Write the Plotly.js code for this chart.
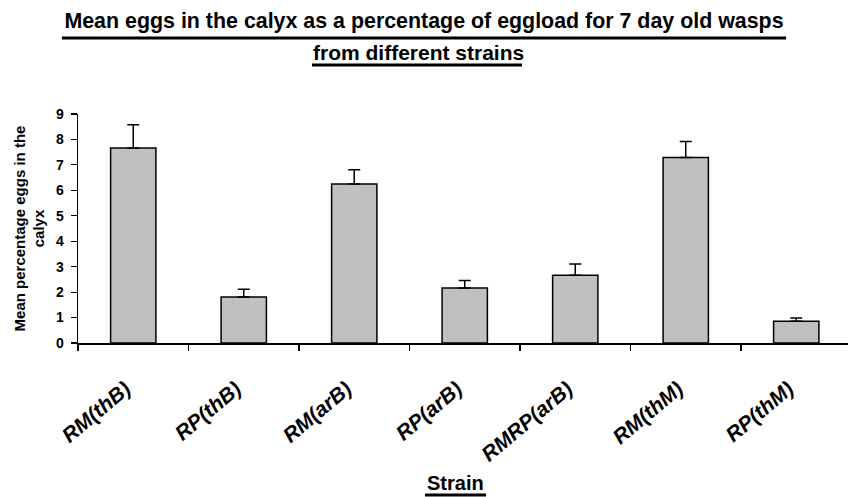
<!DOCTYPE html>
<html>
<head>
<meta charset="utf-8">
<script src="https://cdn.plot.ly/plotly-3.0.1.min.js"></script>
<style>html,body{margin:0;padding:0;background:#fff;}#chart{width:848px;height:497px;}</style>
</head>
<body>
<div id="chart"></div>
<script>
const strains = ["RM(thB)", "RP(thB)", "RM(arB)", "RP(arB)", "RMRP(arB)", "RM(thM)", "RP(thM)"];
const meanPct = [7.66, 1.81, 6.25, 2.16, 2.66, 7.29, 0.85];
const sePct = [0.92, 0.30, 0.56, 0.30, 0.44, 0.63, 0.13];
const yTicks = [0, 1, 2, 3, 4, 5, 6, 7, 8, 9];

const FONT = "Arial, 'Liberation Sans', Helvetica, sans-serif";
const W = 848, H = 497, L = 78, R = 0, T = 114, B = 154;
const pw = W - L - R, ph = H - T - B;
const px2x = p => (p - L) / pw;
const py2y = p => (H - B - p) / ph;

const trace = {
  type: "bar",
  x: strains,
  y: meanPct,
  width: 0.41,
  marker: {color: "#c0c0c0", line: {color: "#000", width: 1.5}},
  error_y: {
    type: "data", symmetric: false,
    array: sePct, arrayminus: sePct.map(() => 0),
    color: "#000", thickness: 1.5, width: 6
  },
  hoverinfo: "x+y"
};

function uline(x0, x1, y, w) {
  return {type: "line", xref: "paper", yref: "paper",
    x0: px2x(x0), x1: px2x(x1), y0: py2y(y), y1: py2y(y),
    line: {color: "#000", width: w}};
}

const layout = {
  width: W, height: H,
  margin: {l: L, r: R, t: T, b: B, pad: 0},
  paper_bgcolor: "#fff", plot_bgcolor: "#fff",
  showlegend: false,
  font: {family: FONT, color: "#000"},
  title: {
    text: "<b>Mean eggs in the calyx as a percentage of eggload for 7 day old wasps</b>",
    font: {family: FONT, size: 21.4, color: "#000"},
    x: 0.5, xanchor: "center", xref: "container",
    y: 1 - 21 / H, yanchor: "middle", yref: "container"
  },
  annotations: [{
    text: "<b>from different strains</b>",
    xref: "paper", yref: "paper", x: px2x(418), y: py2y(53),
    xanchor: "center", yanchor: "middle", showarrow: false,
    font: {family: FONT, size: 21, color: "#000"}
  }, {
    text: "<b>Strain</b>",
    xref: "paper", yref: "paper", x: px2x(455), y: py2y(483),
    xanchor: "center", yanchor: "middle", showarrow: false,
    font: {family: FONT, size: 20, color: "#000"}
  }],
  shapes: [
    uline(62, 786, 38, 3),
    uline(312, 522, 65, 3),
    uline(425, 486, 495, 3)
  ],
  xaxis: {
    type: "category",
    range: [-0.5, -0.5 + pw / 110.5],
    showline: true, linecolor: "#000", linewidth: 1.5,
    ticks: "outside", tickson: "boundaries", ticklen: 6, tickwidth: 1.2, tickcolor: "#000",
    tickangle: -40,
    ticklabelstandoff: 24,
    ticklabelshift: -8,
    tickfont: {family: FONT, size: 21, weight: "bold", style: "italic", color: "#000"},
    showgrid: false, zeroline: false,
    automargin: false, fixedrange: true
  },
  yaxis: {
    range: [0, 9],
    tickvals: yTicks,
    showline: true, linecolor: "#000", linewidth: 1.5,
    ticks: "outside", ticklen: 6, tickwidth: 1.2, tickcolor: "#000",
    ticklabelstandoff: 4,
    tickfont: {family: FONT, size: 14, weight: "bold", color: "#000"},
    showgrid: false, zeroline: false,
    title: {text: "<b>Mean percentage eggs in the<br>calyx</b>", font: {family: FONT, size: 15, color: "#000"}, standoff: 7},
    automargin: false, fixedrange: true
  },
  bargap: 0.59
};

Plotly.newPlot("chart", [trace], layout, {displayModeBar: false, staticPlot: true});
</script>
</body>
</html>
